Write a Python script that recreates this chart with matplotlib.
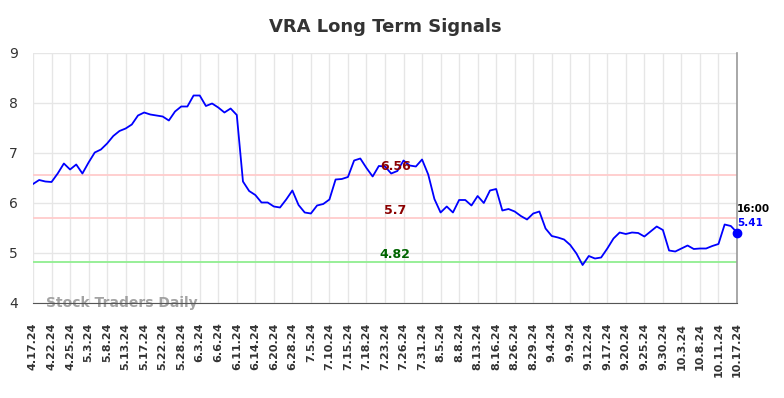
import matplotlib
matplotlib.use('Agg')
from matplotlib import pyplot as plt
import numpy as np

# ----- data ----- #
title = 'VRA Long Term Signals'
tick_labels = ['4.17.24', '4.22.24', '4.25.24', '5.3.24', '5.8.24', '5.13.24', '5.17.24',
               '5.22.24', '5.28.24', '6.3.24', '6.6.24', '6.11.24', '6.14.24', '6.20.24',
               '6.28.24', '7.5.24', '7.10.24', '7.15.24', '7.18.24', '7.23.24', '7.26.24',
               '7.31.24', '8.5.24', '8.8.24', '8.13.24', '8.16.24', '8.26.24', '8.29.24',
               '9.4.24', '9.9.24', '9.12.24', '9.17.24', '9.20.24', '9.25.24', '9.30.24',
               '10.3.24', '10.8.24', '10.11.24', '10.17.24']
prices = [6.38, 6.46, 6.43, 6.42, 6.59, 6.79, 6.67, 6.77, 6.59, 6.81,
          7.01, 7.07, 7.19, 7.34, 7.44, 7.49, 7.57, 7.75, 7.81, 7.77,
          7.75, 7.73, 7.65, 7.83, 7.93, 7.93, 8.15, 8.15, 7.94, 7.99,
          7.91, 7.81, 7.89, 7.76, 6.43, 6.24, 6.16, 6.01, 6.01, 5.93,
          5.91, 6.07, 6.25, 5.96, 5.81, 5.79, 5.95, 5.98, 6.07, 6.47,
          6.48, 6.52, 6.85, 6.89, 6.70, 6.53, 6.74, 6.73, 6.59, 6.64,
          6.85, 6.75, 6.73, 6.87, 6.57, 6.08, 5.81, 5.93, 5.81, 6.06,
          6.06, 5.95, 6.14, 6.00, 6.25, 6.28, 5.85, 5.88, 5.83, 5.74,
          5.67, 5.79, 5.83, 5.49, 5.34, 5.31, 5.27, 5.16, 4.99, 4.76,
          4.94, 4.89, 4.91, 5.09, 5.29, 5.41, 5.38, 5.41, 5.40, 5.33,
          5.43, 5.53, 5.46, 5.05, 5.03, 5.09, 5.15, 5.08, 5.09, 5.09,
          5.14, 5.18, 5.57, 5.54, 5.41]
resistance = [6.56, 5.7]
support = [4.82]
last_time = '16:00'

# ----- figure ----- #
fig = plt.figure(figsize=(7.84, 3.98), dpi=100)
ax = fig.add_axes([33 / 784, 1 - 303 / 398, (737 - 33) / 784, 250 / 398])

x = np.arange(len(prices))
ax.plot(x, prices, color='#0000ff', linewidth=1.3, zorder=3)

for lvl in resistance:
    ax.axhline(lvl, color='#ffcccc', linewidth=1.3, zorder=2)
    ax.text(len(prices) * 0.51, lvl + 0.03, f'{lvl:g}', color='#8b0000',
            fontsize=9, fontweight='bold', ha='center', va='bottom', zorder=4)
for lvl in support:
    ax.axhline(lvl, color='#90ee90', linewidth=1.3, zorder=2)
    ax.text(len(prices) * 0.51, lvl + 0.03, f'{lvl:g}', color='#006400',
            fontsize=9, fontweight='bold', ha='center', va='bottom', zorder=4)

# ----- last point ----- #
ax.plot(x[-1], prices[-1], 'o', color='#0000ff', markersize=6, zorder=5, clip_on=False)
ax.annotate(last_time, (x[-1], prices[-1]), xytext=(0, 24), textcoords='offset pixels',
            fontsize=7.5, fontweight='bold', color='black', ha='left', va='center',
            annotation_clip=False)
ax.annotate(f'{prices[-1]:.2f}', (x[-1], prices[-1]), xytext=(0, 10), textcoords='offset pixels',
            fontsize=7.5, fontweight='bold', color='#0000ff', ha='left', va='center',
            annotation_clip=False)

# ----- axes ----- #
ax.set_xlim(0, len(prices) - 1)
ax.set_ylim(4, 9)
ax.set_yticks(range(4, 10))
ax.set_xticks(x[::3])
ax.set_xticklabels(tick_labels, rotation=90, fontsize=8, fontweight='bold', color='#333333')
ax.tick_params(axis='y', length=0, pad=11, labelsize=10, labelcolor='#333333')
ax.tick_params(axis='x', length=0, pad=14)
ax.grid(True, color='#e6e6e6', linewidth=1)
ax.set_axisbelow(True)

for s in ['top', 'left']:
    ax.spines[s].set_visible(False)
ax.spines['bottom'].set_color('#555555')
ax.spines['right'].set_color('#999999')
ax.spines['right'].set_linewidth(1.2)

ax.text(0.018, 0.0, 'Stock Traders Daily', transform=ax.transAxes, fontsize=10,
        fontweight='bold', color='#999999', alpha=0.9, ha='left', va='center', zorder=1)

fig.suptitle(title, x=(33 + 737) / 2 / 784, y=1 - 27 / 398, fontsize=13,
             fontweight='bold', color='#333333', va='center')

fig.savefig('out.png', dpi=100)
